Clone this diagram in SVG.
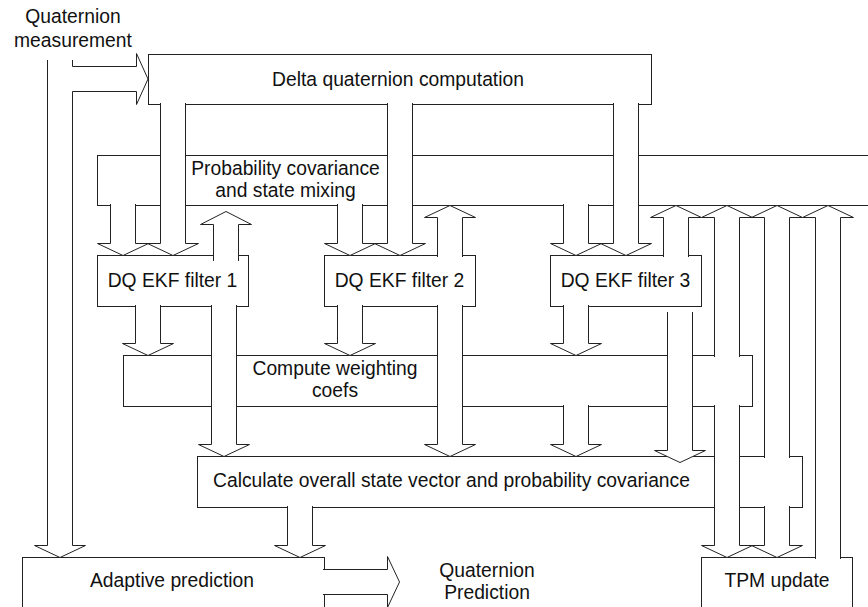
<svg xmlns="http://www.w3.org/2000/svg" width="868" height="607" viewBox="0 0 868 607">
  <style>
    .box { fill: #fff; stroke: #222; stroke-width: 1; }
    .arr { fill: #fff; stroke: #222; stroke-width: 1; stroke-linejoin: miter; }
    text { font-family: "Liberation Sans", Arial, Helvetica, sans-serif; font-size: 19.3px; fill: #111; text-anchor: middle; }
  </style>
  <rect width="868" height="607" fill="#fff"/>

  <!-- processing blocks -->
  <g id="delta-quaternion">
    <rect class="box" x="148.5" y="54.5" width="503" height="50"/>
    <text x="398" y="85.5">Delta quaternion computation</text>
  </g>
  <g id="mixing">
    <rect class="box" x="97.5" y="155.5" width="780" height="50"/>
    <text x="285.5" y="175">Probability covariance</text>
    <text x="285.5" y="197">and state mixing</text>
  </g>
  <g id="filter-1">
    <rect class="box" x="97.5" y="255.5" width="151" height="51"/>
    <text x="172.5" y="286.5">DQ EKF filter 1</text>
  </g>
  <g id="filter-2">
    <rect class="box" x="324.5" y="255.5" width="151" height="51"/>
    <text x="399.5" y="286.5">DQ EKF filter 2</text>
  </g>
  <g id="filter-3">
    <rect class="box" x="550.5" y="255.5" width="151" height="51"/>
    <text x="625.5" y="286.5">DQ EKF filter 3</text>
  </g>
  <g id="weighting">
    <rect class="box" x="123.5" y="355.5" width="629" height="51"/>
    <text x="335" y="375">Compute weighting</text>
    <text x="335" y="397">coefs</text>
  </g>
  <g id="overall-state">
    <rect class="box" x="197.5" y="456.5" width="605" height="51"/>
    <text x="451.5" y="487">Calculate overall state vector and probability covariance</text>
  </g>
  <g id="adaptive-prediction">
    <rect class="box" x="22.5" y="557.5" width="302" height="50"/>
    <text x="172" y="587">Adaptive prediction</text>
  </g>
  <g id="tpm-update">
    <rect class="box" x="701.5" y="557.5" width="151" height="50"/>
    <text x="777" y="587">TPM update</text>
  </g>

  <!-- free labels -->
  <g id="measurement-label">
    <text x="73" y="22.5">Quaternion</text>
    <text x="73" y="46.5">measurement</text>
  </g>
  <g id="prediction-label">
    <text x="487" y="577">Quaternion</text>
    <text x="487" y="599">Prediction</text>
  </g>

  <!-- hollow block arrows -->
  <g id="connectors">
    <!-- measurement: down to prediction, branch into delta block -->
    <path class="arr" d="M47.5,60 V545.5 H34.5 L60,557.5 L85.5,545.5 H72.5 V91.5 H136.5 V104.5 L148,79 L136.5,53.5 V66.5 H72.5 V60"/>
    <!-- delta block to filters -->
    <path class="arr" d="M160.5,103 V243.5 H147.5 L173,255.5 L198.5,243.5 H185.5 V103"/>
    <path class="arr" d="M387.5,103 V243.5 H374.5 L400,255.5 L425.5,243.5 H412.5 V103"/>
    <path class="arr" d="M613.5,103 V243.5 H600.5 L626,255.5 L651.5,243.5 H638.5 V103"/>
    <!-- mixing to filters -->
    <path class="arr" d="M110.5,204 V243.5 H97.5 L123,255.5 L148.5,243.5 H135.5 V204"/>
    <path class="arr" d="M337.5,204 V243.5 H324.5 L350,255.5 L375.5,243.5 H362.5 V204"/>
    <path class="arr" d="M563.5,204 V243.5 H550.5 L576,255.5 L601.5,243.5 H588.5 V204"/>
    <!-- feedback into mixing -->
    <path class="arr" d="M213.5,261 V224.5 H200.5 L226,211.5 L251.5,224.5 H238.5 V261"/>
    <path class="arr" d="M437.5,257 V217.5 H424.5 L450,205.5 L475.5,217.5 H462.5 V257"/>
    <path class="arr" d="M663.5,257 V217.5 H650.5 L676,205.5 L701.5,217.5 H688.5 V257"/>
    <path class="arr" d="M714.5,357 V217.5 H701.5 L727,205.5 L752.5,217.5 H739.5 V357"/>
    <path class="arr" d="M764.5,458 V217.5 H751.5 L777,205.5 L802.5,217.5 H789.5 V458"/>
    <path class="arr" d="M815.5,559 V217.5 H802.5 L828,205.5 L853.5,217.5 H840.5 V559"/>
    <!-- filters to weighting -->
    <path class="arr" d="M135.5,305 V343.5 H122.5 L148,355.5 L173.5,343.5 H160.5 V305"/>
    <path class="arr" d="M337.5,305 V343.5 H324.5 L350,355.5 L375.5,343.5 H362.5 V305"/>
    <path class="arr" d="M563.5,305 V343.5 H550.5 L576,355.5 L601.5,343.5 H588.5 V305"/>
    <!-- filters and weighting to overall state -->
    <path class="arr" d="M211.5,305 V444.5 H198.5 L224,456.5 L249.5,444.5 H236.5 V305"/>
    <path class="arr" d="M437.5,305 V444.5 H424.5 L450,456.5 L475.5,444.5 H462.5 V305"/>
    <path class="arr" d="M667.5,312 V450.5 H654.5 L680,462.5 L705.5,450.5 H692.5 V312"/>
    <path class="arr" d="M563.5,405 V444.5 H550.5 L576,456.5 L601.5,444.5 H588.5 V405"/>
    <!-- into TPM update -->
    <path class="arr" d="M714.5,405 V545.5 H701.5 L727,557.5 L752.5,545.5 H739.5 V405"/>
    <path class="arr" d="M764.5,506 V545.5 H751.5 L777,557.5 L802.5,545.5 H789.5 V506"/>
    <!-- overall state to adaptive prediction -->
    <path class="arr" d="M287.5,506 V545.5 H274.5 L300,557.5 L325.5,545.5 H312.5 V506"/>
    <!-- prediction output -->
    <path class="arr" d="M323,569.5 H387.5 V556.5 L399.5,582 L387.5,607.5 V594.5 H323"/>
  </g>
</svg>
